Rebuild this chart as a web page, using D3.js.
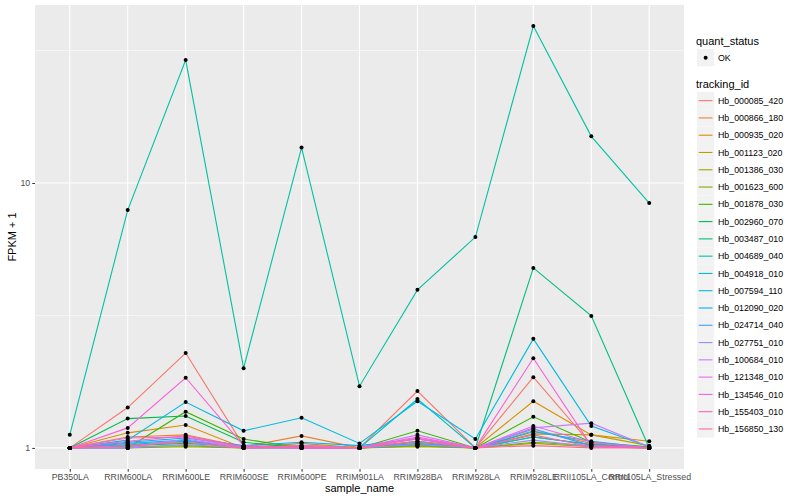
<!DOCTYPE html>
<html>
<head>
<meta charset="utf-8">
<script src="https://cdn.jsdelivr.net/npm/d3@7"></script>
<style>
  body { margin: 0; background: #fff; }
  text { font-family: "Liberation Sans", Arial, sans-serif; }
</style>
</head>
<body>
<svg id="chart" width="800" height="500"></svg>
<script>
const samples = ['PB350LA', 'RRIM600LA', 'RRIM600LE', 'RRIM600SE', 'RRIM600PE', 'RRIM901LA',
  'RRIM928BA', 'RRIM928LA', 'RRIM928LE', 'RRII105LA_Control', 'RRII105LA_Stressed'];

const trackingIds = ['Hb_000085_420', 'Hb_000866_180', 'Hb_000935_020', 'Hb_001123_020',
  'Hb_001386_030', 'Hb_001623_600', 'Hb_001878_030', 'Hb_002960_070', 'Hb_003487_010',
  'Hb_004689_040', 'Hb_004918_010', 'Hb_007594_110', 'Hb_012090_020', 'Hb_024714_040',
  'Hb_027751_010', 'Hb_100684_010', 'Hb_121348_010', 'Hb_134546_010', 'Hb_155403_010',
  'Hb_156850_130'];

// FPKM + 1, one row per tracking_id, one column per sample
const fpkm = [
  [1.00, 1.42, 2.28, 1.02, 1.01, 1.00, 1.64, 1.00, 1.85, 1.03, 1.01],
  [1.00, 1.10, 1.12, 1.01, 1.11, 1.00, 1.05, 1.00, 1.16, 1.04, 1.00],
  [1.00, 1.14, 1.22, 1.00, 1.04, 1.00, 1.03, 1.00, 1.50, 1.12, 1.06],
  [1.00, 1.02, 1.05, 1.00, 1.02, 1.00, 1.02, 1.00, 1.13, 1.12, 1.02],
  [1.00, 1.01, 1.02, 1.00, 1.00, 1.00, 1.01, 1.00, 1.04, 1.01, 1.00],
  [1.00, 1.00, 1.01, 1.00, 1.00, 1.00, 1.02, 1.00, 1.05, 1.02, 1.00],
  [1.00, 1.00, 1.37, 1.08, 1.00, 1.00, 1.16, 1.00, 1.31, 1.05, 1.01],
  [1.00, 1.29, 1.32, 1.05, 1.00, 1.00, 1.06, 1.00, 1.10, 1.03, 1.00],
  [1.00, 1.02, 1.04, 1.01, 1.00, 1.00, 1.03, 1.00, 4.78, 3.15, 1.00],
  [1.12, 7.90, 29.1, 2.00, 13.6, 1.71, 3.95, 6.25, 39.1, 15.0, 8.40],
  [1.00, 1.03, 1.06, 1.01, 1.00, 1.00, 1.53, 1.00, 1.10, 1.03, 1.00],
  [1.00, 1.07, 1.49, 1.16, 1.30, 1.04, 1.50, 1.08, 2.58, 1.21, 1.01],
  [1.00, 1.05, 1.09, 1.02, 1.05, 1.02, 1.08, 1.00, 1.15, 1.06, 1.00],
  [1.00, 1.04, 1.07, 1.00, 1.02, 1.00, 1.04, 1.00, 1.18, 1.02, 1.00],
  [1.00, 1.00, 1.03, 1.00, 1.00, 1.00, 1.03, 1.00, 1.07, 1.01, 1.00],
  [1.00, 1.00, 1.08, 1.00, 1.00, 1.00, 1.12, 1.00, 1.19, 1.24, 1.01],
  [1.00, 1.09, 1.10, 1.00, 1.02, 1.00, 1.09, 1.00, 1.21, 1.05, 1.00],
  [1.00, 1.19, 1.84, 1.02, 1.00, 1.00, 1.08, 1.00, 2.18, 1.02, 1.00],
  [1.00, 1.06, 1.11, 1.01, 1.00, 1.00, 1.10, 1.00, 1.12, 1.01, 1.00],
  [1.00, 1.02, 1.05, 1.00, 1.01, 1.00, 1.06, 1.00, 1.02, 1.00, 1.00]
];

const yTicks = [1, 10];
const quantStatus = ['OK'];

// ggplot-style hue palette (polar LUV -> sRGB)
function hclLuv(h, c, l) {
  const hr = h * Math.PI / 180;
  const U = c * Math.cos(hr), V = c * Math.sin(hr);
  const Y = l > 8 ? Math.pow((l + 16) / 116, 3) : l / 903.3;
  const u = U / (13 * l) + 0.1978398, v = V / (13 * l) + 0.4683363;
  const X = 9 * Y * u / (4 * v);
  const Z = -X / 3 - 5 * Y + 3 * Y / v;
  const gam = t => {
    t = t <= 0.0031308 ? 12.92 * t : 1.055 * Math.pow(t, 1 / 2.4) - 0.055;
    return Math.round(Math.max(0, Math.min(1, t)) * 255);
  };
  return d3.rgb(
    gam(3.240479 * X - 1.537150 * Y - 0.498535 * Z),
    gam(-0.969256 * X + 1.875992 * Y + 0.041556 * Z),
    gam(0.055648 * X - 0.204043 * Y + 1.057311 * Z)
  ).formatHex();
}
const n = trackingIds.length;
const colors = trackingIds.map((_, i) => hclLuv(15 + i * 360 / n, 100, 65));

const svg = d3.select('#chart');
const panel = { left: 35, right: 684, top: 5, bottom: 469 };

const x = d3.scalePoint().domain(samples)
  .range([panel.left, panel.right]).padding(0.6);

const all = fpkm.flat();
const lmin = Math.log10(d3.min(all)), lmax = Math.log10(d3.max(all));
const pad = (lmax - lmin) * 0.05;
const y = d3.scaleLog().domain([Math.pow(10, lmin - pad), Math.pow(10, lmax + pad)])
  .range([panel.bottom, panel.top]);

// panel background
svg.append('rect')
  .attr('x', panel.left).attr('y', panel.top)
  .attr('width', panel.right - panel.left).attr('height', panel.bottom - panel.top)
  .attr('fill', '#EBEBEB');

// minor grid (log midpoints)
const minor = [Math.sqrt(10), Math.sqrt(1000)];
svg.append('g').selectAll('line').data(minor).join('line')
  .attr('x1', panel.left).attr('x2', panel.right)
  .attr('y1', d => y(d)).attr('y2', d => y(d))
  .attr('stroke', '#fff').attr('stroke-width', 0.55);

// major grid
svg.append('g').selectAll('line').data(yTicks).join('line')
  .attr('x1', panel.left).attr('x2', panel.right)
  .attr('y1', d => y(d)).attr('y2', d => y(d))
  .attr('stroke', '#fff').attr('stroke-width', 1.1);
svg.append('g').selectAll('line').data(samples).join('line')
  .attr('x1', d => x(d)).attr('x2', d => x(d))
  .attr('y1', panel.top).attr('y2', panel.bottom)
  .attr('stroke', '#fff').attr('stroke-width', 1.1);

// lines
const line = d3.line().x((d, i) => x(samples[i])).y(d => y(d));
svg.append('g').selectAll('path').data(fpkm).join('path')
  .attr('d', line)
  .attr('fill', 'none')
  .attr('stroke', (d, i) => colors[i])
  .attr('stroke-width', 1.1);

// points
const pts = [];
fpkm.forEach(row => row.forEach((v, j) => pts.push({ s: samples[j], v })));
svg.append('g').selectAll('circle').data(pts).join('circle')
  .attr('cx', d => x(d.s)).attr('cy', d => y(d.v))
  .attr('r', 2).attr('fill', '#000');

// axes
const xAxis = svg.append('g')
  .attr('transform', `translate(0,${panel.bottom})`)
  .call(d3.axisBottom(x).tickSize(2.75).tickPadding(2));
const yAxis = svg.append('g')
  .attr('transform', `translate(${panel.left},0)`)
  .call(d3.axisLeft(y).tickValues(yTicks).tickFormat(d3.format('d')).tickSize(2.75).tickPadding(2));
[xAxis, yAxis].forEach(a => {
  a.select('.domain').remove();
  a.selectAll('line').attr('stroke', '#333333');
  a.selectAll('text').attr('fill', '#4D4D4D').style('font-size', '8.8px')
    .style('font-family', '"Liberation Sans", Arial, sans-serif');
});

svg.append('text')
  .attr('x', (panel.left + panel.right) / 2).attr('y', 492)
  .attr('text-anchor', 'middle').style('font-size', '11px')
  .text('sample_name');
svg.append('text')
  .attr('transform', `translate(16,${(panel.top + panel.bottom) / 2}) rotate(-90)`)
  .attr('text-anchor', 'middle').style('font-size', '11px')
  .text('FPKM + 1');

// legends
const lg = svg.append('g').attr('transform', 'translate(696,0)');
lg.append('text').attr('x', 0).attr('y', 45).style('font-size', '11px').text('quant_status');
quantStatus.forEach((q, i) => {
  const g = lg.append('g').attr('transform', `translate(1,${49 + i * 17.28})`);
  g.append('rect').attr('width', 17.28).attr('height', 17.28).attr('fill', '#F2F2F2');
  g.append('circle').attr('cx', 8.64).attr('cy', 8.64).attr('r', 2).attr('fill', '#000');
  g.append('text').attr('x', 21).attr('y', 11.8).style('font-size', '8.8px').text(q);
});

lg.append('text').attr('x', 0).attr('y', 88).style('font-size', '11px').text('tracking_id');
trackingIds.forEach((id, i) => {
  const g = lg.append('g').attr('transform', `translate(1,${92 + i * 17.28})`);
  g.append('rect').attr('width', 17.28).attr('height', 17.28).attr('fill', '#F2F2F2');
  g.append('line').attr('x1', 1.7).attr('x2', 15.5).attr('y1', 8.64).attr('y2', 8.64)
    .attr('stroke', colors[i]).attr('stroke-width', 1.1);
  g.append('text').attr('x', 21).attr('y', 11.8).style('font-size', '8.8px').text(id);
});
</script>
</body>
</html>
